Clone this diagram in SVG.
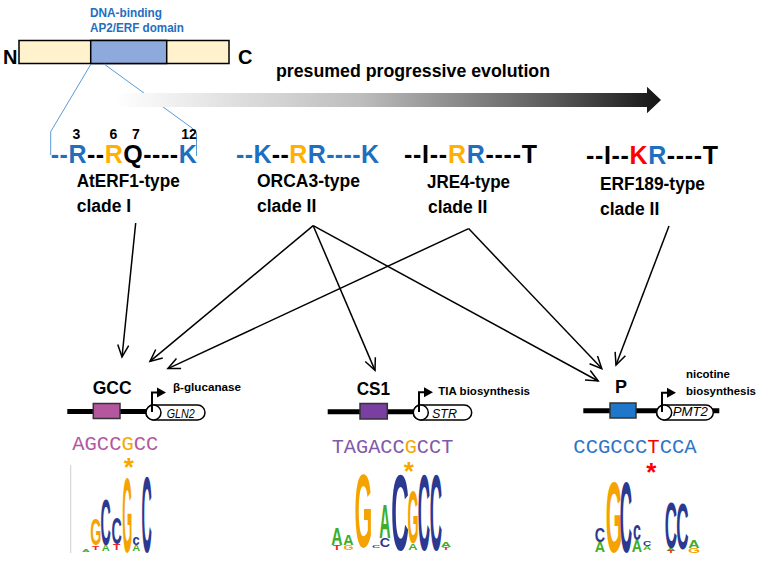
<svg xmlns="http://www.w3.org/2000/svg" width="759" height="564" viewBox="0 0 759 564">
<defs>
<linearGradient id="evo" gradientUnits="userSpaceOnUse" x1="115" y1="0" x2="661" y2="0">
<stop offset="0" stop-color="#ffffff"/>
<stop offset="0.45" stop-color="#bdbdbd"/>
<stop offset="0.8" stop-color="#5a5a5a"/>
<stop offset="1" stop-color="#151515"/>
</linearGradient>
<marker id="ah" viewBox="-14 -8 16 16" refX="0" refY="0" markerWidth="16" markerHeight="16" markerUnits="userSpaceOnUse" orient="auto">
<path d="M-12,-5.5 L0,0 L-12,5.5" fill="none" stroke="#000" stroke-width="1.5"/>
</marker>
<style>
text{font-family:"Liberation Sans",Arial,sans-serif}
.b{font-weight:bold}
.dom{font-size:12px;font-weight:bold;fill:#1F6FBF}
.seq{font-size:25px;font-weight:bold}
.num{font-size:14px;font-weight:bold;text-anchor:middle}
.lab{font-size:17.5px;font-weight:bold}
.bl{fill:#1F6FBF}
.or{fill:#FFB000}
.rd{fill:#FF0000}
.k{fill:#000}
.conn line{stroke:#000;stroke-width:1.5;marker-end:url(#ah)}
.dna{stroke:#000;stroke-width:5}
.pill{fill:#fff;stroke:#000;stroke-width:1.5}
.tss{fill:none;stroke:#000;stroke-width:2}
.gene{font-size:12px;font-style:italic}
.mot{font-family:"Liberation Mono","Courier New",monospace;font-size:20.5px}
.ast{font-size:26px;font-weight:bold;text-anchor:middle}
.lg{font-size:10px;font-weight:bold;text-anchor:middle}
.G{fill:#F5A300}.C{fill:#2B3990}.A{fill:#3DAE2B}.T{fill:#E8262A}
</style>
</defs>
<rect width="759" height="564" fill="#fff"/>

<g id="protein">
<text class="dom" x="90" y="16.5" textLength="72" lengthAdjust="spacingAndGlyphs">DNA-binding</text>
<text class="dom" x="90" y="32" textLength="94" lengthAdjust="spacingAndGlyphs">AP2/ERF domain</text>
<text class="b" x="3" y="64" font-size="20">N</text>
<rect x="19" y="40.5" width="210" height="23" fill="#FFF2CC" stroke="#000" stroke-width="1.5"/>
<rect x="90.7" y="40.5" width="76" height="23" fill="#8EA9DB" stroke="#000" stroke-width="1.5"/>
<text class="b" x="238" y="64" font-size="20">C</text>
<polyline points="91,64 50.7,131.7 50.7,155" fill="none" stroke="#5B9BD5" stroke-width="1"/>
<polyline points="104,64 192,128 196.5,133 196.5,156" fill="none" stroke="#5B9BD5" stroke-width="1"/>
</g>

<g id="evolution">
<text class="b" x="276" y="77" font-size="17.5" textLength="274" lengthAdjust="spacingAndGlyphs">presumed progressive evolution</text>
<path d="M115,93 H647 V86.7 L661,100 L647,113.3 V107 H115 Z" fill="url(#evo)"/>
</g>

<g id="aterf1">
<text class="num" x="76.3" y="139">3</text>
<text class="num" x="113.5" y="139">6</text>
<text class="num" x="135.8" y="139">7</text>
<text class="num" x="189" y="139">12</text>
<text class="seq" x="50.7" y="163" textLength="146" lengthAdjust="spacing"><tspan class="bl">--R</tspan><tspan class="k">--</tspan><tspan class="or">R</tspan><tspan class="k">Q----</tspan><tspan class="bl">K</tspan></text>
<text class="lab" x="76.7" y="187" textLength="103" lengthAdjust="spacingAndGlyphs">AtERF1-type</text>
<text class="lab" x="76.7" y="212">clade I</text>
</g>

<g id="orca3">
<text class="seq" x="236" y="163" textLength="143" lengthAdjust="spacing"><tspan class="bl">--K</tspan><tspan class="k">--</tspan><tspan class="or">R</tspan><tspan class="bl">R----K</tspan></text>
<text class="lab" x="257" y="187" textLength="103" lengthAdjust="spacingAndGlyphs">ORCA3-type</text>
<text class="lab" x="257" y="212">clade II</text>
</g>

<g id="jre4">
<text class="seq" x="404" y="163" textLength="133" lengthAdjust="spacing"><tspan class="k">--I--</tspan><tspan class="or">R</tspan><tspan class="bl">R</tspan><tspan class="k">----T</tspan></text>
<text class="lab" x="427" y="188" textLength="83" lengthAdjust="spacingAndGlyphs">JRE4-type</text>
<text class="lab" x="428" y="213">clade II</text>
</g>

<g id="erf189">
<text class="seq" x="586" y="164" textLength="132" lengthAdjust="spacing"><tspan class="k">--I--</tspan><tspan class="rd">K</tspan><tspan class="bl">R</tspan><tspan class="k">----T</tspan></text>
<text class="lab" x="600" y="190" textLength="105" lengthAdjust="spacingAndGlyphs">ERF189-type</text>
<text class="lab" x="600" y="215">clade II</text>
</g>

<g id="connectors" class="conn">
<line x1="135.7" y1="223" x2="122" y2="357"/>
<line x1="313.2" y1="225.7" x2="150" y2="361.4"/>
<line x1="313.2" y1="225.7" x2="375" y2="370.4"/>
<line x1="313.2" y1="225.7" x2="598.2" y2="381"/>
<line x1="468.6" y1="228.6" x2="167.9" y2="368.6"/>
<line x1="468.6" y1="228.6" x2="601.8" y2="368.6"/>
<line x1="669" y1="226" x2="616" y2="365"/>
</g>

<g id="gcc">
<text class="b" x="92.7" y="394.3" font-size="18" textLength="39" lengthAdjust="spacingAndGlyphs">GCC</text>
<line class="dna" x1="67.3" y1="411.5" x2="152" y2="411.5"/>
<rect x="93.3" y="403.5" width="26.7" height="15" fill="#B5579F" stroke="#333" stroke-width="1.5"/>
<rect class="pill" x="146" y="405" width="59" height="15" rx="7.5"/>
<circle class="pill" cx="153.5" cy="412.5" r="7.5"/>
<path class="tss" d="M152,412 V392.5 H158"/>
<polygon points="157,387.5 166,392.5 157,397.5"/>
<text class="gene" x="166.7" y="418" textLength="28" lengthAdjust="spacingAndGlyphs">GLN2</text>
<text class="b" x="173" y="390.7" font-size="11.5" textLength="68" lengthAdjust="spacingAndGlyphs">β-glucanase</text>
<text class="mot" x="72.3" y="450" fill="#B5579F" textLength="86" lengthAdjust="spacingAndGlyphs">AGCC<tspan fill="#F5A800">G</tspan>CC</text>
<text class="ast" x="128.7" y="476" fill="#F5A800">*</text>
<line x1="70.7" y1="465" x2="70.7" y2="553" stroke="#cfcfcf" stroke-width="1"/>
<text class="lg G" transform="translate(95.7,545) scale(1.43,3.77)">G</text>
<text class="lg T" transform="translate(95.7,549.5) scale(1.2,0.6)">T</text>
<text class="lg A" transform="translate(86,552) scale(1.1,0.42)">A</text>
<text class="lg C" transform="translate(105.7,545) scale(1.43,6.5)">C</text>
<text class="lg A" transform="translate(105.7,551) scale(1.1,0.83)">A</text>
<text class="lg C" transform="translate(116.7,544) scale(1.43,3.75)">C</text>
<text class="lg T" transform="translate(116.7,550) scale(1.2,0.83)">T</text>
<text class="lg G" transform="translate(127.2,551.7) scale(1.29,10.65)">G</text>
<text class="lg C" transform="translate(136.2,545) scale(1.29,1.39)">c</text>
<text class="lg A" transform="translate(136.2,551) scale(1.1,0.83)">A</text>
<text class="lg C" transform="translate(146.7,551.7) scale(1.43,10.8)">C</text>
</g>

<g id="cs1">
<text class="b" x="356.7" y="395" font-size="18" textLength="33.3" lengthAdjust="spacingAndGlyphs">CS1</text>
<line class="dna" x1="327.7" y1="411.7" x2="419" y2="411.7"/>
<rect x="360" y="403.5" width="27.3" height="15.5" fill="#7B3FA3" stroke="#333" stroke-width="1.5"/>
<rect class="pill" x="413.3" y="405" width="58.4" height="15" rx="7.5"/>
<circle class="pill" cx="420.8" cy="412.5" r="7.5"/>
<path class="tss" d="M419,412 V392.3 H425"/>
<polygon points="424,387.3 433,392.3 424,397.3"/>
<text class="gene" x="432" y="418" textLength="25" lengthAdjust="spacingAndGlyphs">STR</text>
<text class="b" x="438.3" y="395" font-size="11.5" textLength="91.7" lengthAdjust="spacingAndGlyphs">TIA biosynthesis</text>
<text class="mot" x="331.7" y="453.3" fill="#8159AA" textLength="121.6" lengthAdjust="spacingAndGlyphs">TAGACC<tspan fill="#F5A800">G</tspan>CCT</text>
<text class="ast" x="408.7" y="479.7" fill="#F5A800">*</text>
<text class="lg A" transform="translate(337,545) scale(1.57,2.36)">A</text>
<text class="lg T" transform="translate(337,550) scale(1.29,0.69)">T</text>
<text class="lg A" transform="translate(348.5,545) scale(1.43,1.39)">A</text>
<text class="lg G" transform="translate(348.5,550) scale(1.29,0.69)">G</text>
<text class="lg G" transform="translate(363.5,547) scale(2.29,10.4)">G</text>
<text class="lg C" transform="translate(376,548) scale(1.14,0.42)">C</text>
<text class="lg A" transform="translate(385,538) scale(1.57,4.86)">A</text>
<text class="lg C" transform="translate(385,547) scale(1.43,1.25)">C</text>
<text class="lg C" transform="translate(400,550) scale(2.43,10.8)">C</text>
<text class="lg G" transform="translate(413,543) scale(1.43,7.36)">G</text>
<text class="lg A" transform="translate(413,550) scale(1.29,0.97)">A</text>
<text class="lg C" transform="translate(424,550) scale(1.71,10.8)">C</text>
<text class="lg C" transform="translate(436,550) scale(1.71,10.8)">C</text>
<text class="lg A" transform="translate(446,547) scale(1.43,0.69)">A</text>
<text class="lg T" transform="translate(446,550) scale(1.14,0.42)">T</text>
</g>

<g id="p">
<text class="b" x="615" y="393.3" font-size="18">P</text>
<line class="dna" x1="583.3" y1="410.7" x2="719.3" y2="410.7"/>
<rect x="610" y="403" width="26" height="15" fill="#1F77C9" stroke="#333" stroke-width="1.5"/>
<rect class="pill" x="656.7" y="405" width="56.6" height="15" rx="7.5"/>
<circle class="pill" cx="664.2" cy="412.5" r="7.5"/>
<path class="tss" d="M662,412 V392.7 H668"/>
<polygon points="667,387.7 676,392.7 667,397.7"/>
<text class="gene" x="672.7" y="416" textLength="35.3" lengthAdjust="spacingAndGlyphs">PMT2</text>
<text class="b" x="686" y="378.3" font-size="11.5" textLength="44" lengthAdjust="spacingAndGlyphs">nicotine</text>
<text class="b" x="686" y="395" font-size="11.5" textLength="70" lengthAdjust="spacingAndGlyphs">biosynthesis</text>
<text class="mot" x="573.3" y="453.3" fill="#2E75C6" textLength="123.4" lengthAdjust="spacingAndGlyphs">CCGCCC<tspan fill="#FF0000">T</tspan>CCA</text>
<text class="ast" x="651.3" y="481" fill="#FF0000" font-size="28">*</text>
<text class="lg C" transform="translate(600,542) scale(1.43,2.08)">C</text>
<text class="lg A" transform="translate(600,552) scale(1.43,1.39)">A</text>
<text class="lg G" transform="translate(614,552) scale(2.14,10)">G</text>
<text class="lg C" transform="translate(626,552) scale(1.71,10)">C</text>
<text class="lg C" transform="translate(637,540) scale(1.43,2.78)">c</text>
<text class="lg A" transform="translate(637,552) scale(1.43,1.67)">A</text>
<text class="lg C" transform="translate(647,546) scale(1.14,0.69)">C</text>
<text class="lg A" transform="translate(647,549.5) scale(1.14,0.49)">A</text>
<text class="lg C" transform="translate(671,548) scale(1.71,6.4)">C</text>
<text class="lg A" transform="translate(671,551) scale(1.29,0.42)">A</text>
<text class="lg T" transform="translate(671,553) scale(1.14,0.28)">T</text>
<text class="lg C" transform="translate(682.5,549) scale(1.71,6.5)">C</text>
<text class="lg A" transform="translate(694,548) scale(1.57,1.11)">A</text>
<text class="lg G" transform="translate(694,553) scale(1.57,0.69)">G</text>
</g>
</svg>
